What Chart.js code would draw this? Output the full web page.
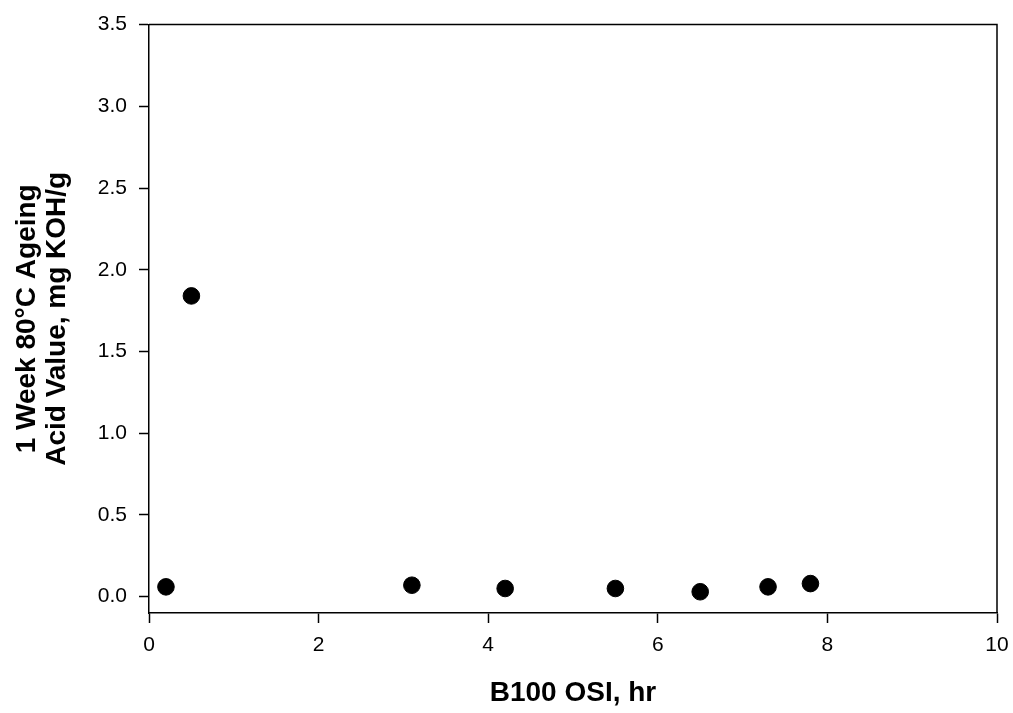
<!DOCTYPE html>
<html>
<head>
<meta charset="utf-8">
<script src="https://cdn.jsdelivr.net/npm/chart.js@4.4.0/dist/chart.umd.min.js"></script>
<style>
  html, body { margin: 0; padding: 0; background: #fff; }
  #wrap { width: 1013px; height: 713px; }
</style>
</head>
<body>
<div id="wrap"><canvas id="osiChart"></canvas></div>
<script>
// OSI (hr) vs acid value after 1 week at 80 C
const osiHours = [0.2, 0.5, 3.1, 4.2, 5.5, 6.5, 7.3, 7.8];
const acidValues = [0.06, 1.84, 0.07, 0.05, 0.05, 0.03, 0.06, 0.08];
const xTicks = [0, 2, 4, 6, 8, 10];
const yTicks = [0, 0.5, 1.0, 1.5, 2.0, 2.5, 3.0, 3.5];

const FONT = "'Liberation Sans', Arial, sans-serif";

// box around the plot area (top and right edges)
const frame = {
  id: "frame",
  afterDraw: (chart) => {
    const { ctx, chartArea: a } = chart;
    ctx.save();
    ctx.strokeStyle = "#000";
    ctx.lineWidth = 1.5;
    ctx.beginPath();
    ctx.moveTo(a.left, a.top);
    ctx.lineTo(a.right, a.top);
    ctx.lineTo(a.right, a.bottom);
    ctx.stroke();
    ctx.restore();
  },
};

const axisGrid = {
  drawOnChartArea: false,
  drawTicks: true,
  tickLength: 10,
  tickWidth: 1.5,
  tickColor: "#000",
};

new Chart(document.getElementById("osiChart").getContext("2d"), {
  type: "scatter",
  data: {
    datasets: [
      {
        data: osiHours.map((x, i) => ({ x: x, y: acidValues[i] })),
        backgroundColor: "#000",
        borderColor: "#000",
        pointRadius: 8.3,
        pointHoverRadius: 8.3,
      },
    ],
  },
  options: {
    responsive: true,
    maintainAspectRatio: false,
    animation: false,
    layout: { padding: { top: 23, right: 16, left: 0, bottom: 0 } },
    plugins: {
      legend: { display: false },
      tooltip: { enabled: false },
    },
    scales: {
      x: {
        type: "linear",
        min: 0,
        max: 10,
        afterBuildTicks: (s) => { s.ticks = xTicks.map((v) => ({ value: v })); },
        afterFit: (s) => {
          s.height = 100;
          // the "10" label may hang past the plot edge
          s.paddingRight = 0;
        },
        grid: axisGrid,
        border: { display: true, color: "#000", width: 1.5 },
        ticks: {
          color: "#000",
          padding: 10,
          maxRotation: 0,
          font: { family: FONT, size: 21 },
        },
        title: {
          display: true,
          text: "B100 OSI, hr",
          color: "#000",
          padding: { top: 0, bottom: 3 },
          font: { family: FONT, size: 28, weight: "bold", lineHeight: 1.2 },
        },
      },
      y: {
        type: "linear",
        min: -0.1,
        max: 3.5,
        afterBuildTicks: (s) => { s.ticks = yTicks.map((v) => ({ value: v })); },
        afterFit: (s) => { s.width = 149; },
        grid: axisGrid,
        border: { display: true, color: "#000", width: 1.5 },
        ticks: {
          color: "#000",
          padding: 12,
          font: { family: FONT, size: 21 },
          callback: (v) => v.toFixed(1),
        },
        title: {
          display: true,
          text: ["1 Week 80\u00b0C Ageing", "Acid Value, mg KOH/g"],
          color: "#000",
          padding: { top: 12, bottom: 0 },
          font: { family: FONT, size: 28, weight: "bold", lineHeight: 1.07 },
        },
      },
    },
  },
  plugins: [frame],
});
</script>
</body>
</html>
